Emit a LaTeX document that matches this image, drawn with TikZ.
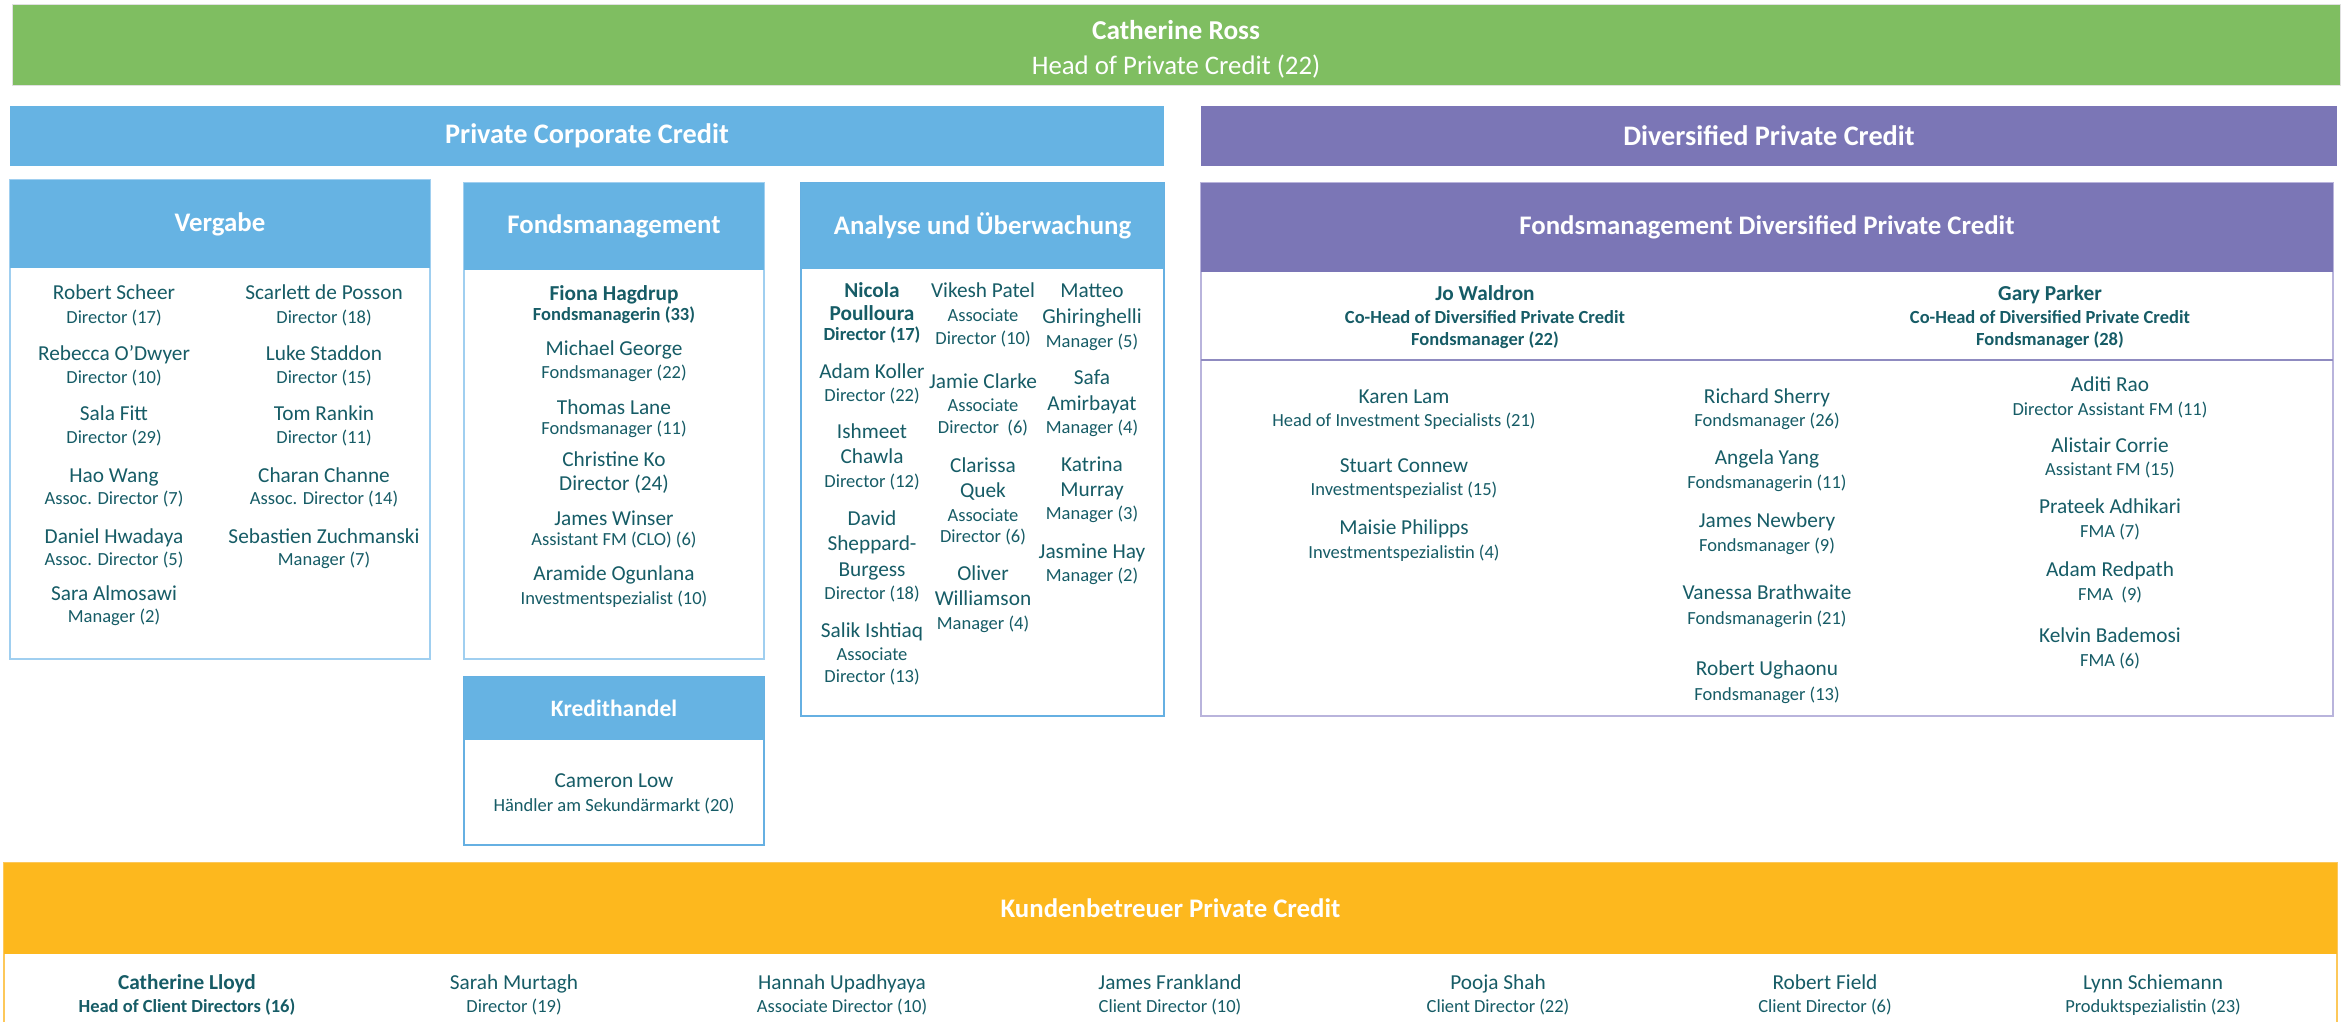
\documentclass[tikz,border=0pt]{standalone}
\usepackage{fontspec}
\setmainfont{Carlito}
\definecolor{topgreen}{RGB}{127,190,97}
\definecolor{secblue}{RGB}{102,179,227}
\definecolor{secpurple}{RGB}{123,118,182}
\definecolor{secorange}{RGB}{253,184,30}
\definecolor{edgeblue}{RGB}{160,207,240}
\definecolor{edgeblueD}{RGB}{102,176,226}
\definecolor{edgepurple}{RGB}{185,180,220}
\definecolor{rulepurple}{RGB}{143,139,192}
\definecolor{edgeorange}{RGB}{253,200,90}
\definecolor{tealc}{RGB}{22,92,102}
\newcommand\fsName{\fontsize{21.3}{25}\selectfont}
\newcommand\fsTitle{\fontsize{18.5}{22}\selectfont}
\newcommand\fsHead{\fontsize{26.8}{30}\selectfont\bfseries}
% one person: id, x, y of name, y of title, name, title
\newcommand\pers[6]{\node[nm] (#1) at (#2,#3) {#5};\node[tt] (#1t) at (#2,#4) {#6};}
\newcommand\persb[6]{\node[nmb] (#1) at (#2,#3) {#5};\node[ttb] (#1t) at (#2,#4) {#6};}
\begin{document}
\begin{tikzpicture}[x=1pt,y=-1pt,
  nm/.style={anchor=base,yshift=-7pt,inner sep=0pt,text=tealc,font=\fsName},
  nmb/.style={nm,font=\fsName\bfseries},
  tt/.style={anchor=base,yshift=-6pt,inner sep=0pt,text=tealc,font=\fsTitle},
  ttb/.style={tt,font=\fsTitle\bfseries},
  bar/.style={rectangle,inner sep=0pt,text=white,font=\fontsize{28.3}{32}\selectfont\bfseries},
  hdr/.style={rectangle,inner sep=0pt,fill=secblue,text=white,font=\fsHead},
  frame/.style={rectangle,inner sep=0pt,draw=#1,line width=2.2pt,fill=white},
]
\useasboundingbox (0,0) rectangle (2349,1022);

% head of the department
\node[bar,fill=topgreen,draw=black!12,line width=0.8pt,minimum width=2328pt,minimum height=81pt] (top) at (1176,44.5) {};
\node[anchor=base,yshift=-9pt,inner sep=0pt,text=white,font=\fontsize{27.3}{30}\selectfont\bfseries] (cr) at (1176,31) {Catherine Ross};
\node[anchor=base,yshift=-9pt,inner sep=0pt,text=white,font=\fontsize{26.8}{30}\selectfont] (crt) at (1176,66) {Head of Private Credit (22)};

% the two divisions
\node[bar,fill=secblue,minimum width=1154pt,minimum height=60pt] (pcc) at (587,136) {Private Corporate Credit};
\node[bar,fill=secpurple,minimum width=1136pt,minimum height=60pt] (dpc) at (1769,136) {Diversified Private Credit};

% Vergabe
\node[frame=edgeblue,minimum width=420pt,minimum height=479pt] (vgf) at (220,419.5) {};
\node[hdr,minimum width=420pt,minimum height=88pt] (vgh) at (220,224) {Vergabe};
\pers{v1}{114}{292}{317}{Robert Scheer}{Director (17)}
\pers{v2}{114}{353}{377}{Rebecca O’Dwyer}{Director (10)}
\pers{v3}{114}{413}{437}{Sala Fitt}{Director (29)}
\pers{v4}{114}{475}{498}{Hao Wang}{Assoc. Director (7)}
\pers{v5}{114}{536}{559}{Daniel Hwadaya}{Assoc. Director (5)}
\pers{v6}{114}{593}{616}{Sara Almosawi}{Manager (2)}
\pers{v7}{324}{292}{317}{Scarlett de Posson}{Director (18)}
\pers{v8}{324}{353}{377}{Luke Staddon}{Director (15)}
\pers{v9}{324}{413}{437}{Tom Rankin}{Director (11)}
\pers{v10}{324}{475}{498}{Charan Channe}{Assoc. Director (14)}
\pers{v11}{324}{536}{559}{Sebastien Zuchmanski}{Manager (7)}

% Fondsmanagement
\node[frame=edgeblue,minimum width=300pt,minimum height=476pt] (fmf) at (614,421) {};
\node[hdr,minimum width=300pt,minimum height=87pt] (fmh) at (614,226.5) {Fondsmanagement};
\persb{f1}{614}{293}{314}{Fiona Hagdrup}{Fondsmanagerin (33)}
\pers{f2}{614}{348}{372}{Michael George}{Fondsmanager (22)}
\pers{f3}{614}{407}{428}{Thomas Lane}{Fondsmanager (11)}
\node[nm] (f4) at (614,459) {Christine Ko};
\node[nm] (f4t) at (614,483) {Director (24)};
\pers{f5}{614}{518}{539}{James Winser}{Assistant FM (CLO) (6)}
\pers{f6}{614}{573}{598}{Aramide Ogunlana}{Investmentspezialist (10)}

% Kredithandel
\node[frame=edgeblueD,line width=1.6pt,minimum width=300pt,minimum height=168pt] (khf) at (614,761) {};
\node[hdr,font=\fontsize{23.5}{28}\selectfont\bfseries,minimum width=300pt,minimum height=63pt] (khh) at (614,708.5) {Kredithandel};
\pers{k1}{614}{780}{805}{Cameron Low}{Händler am Sekundärmarkt (20)}

% Analyse und Überwachung
\node[frame=edgeblueD,line width=1.6pt,minimum width=363pt,minimum height=533pt] (auf) at (982.5,449.5) {};
\node[hdr,minimum width=363pt,minimum height=86pt] (auh) at (982.5,226) {Analyse und Überwachung};
\node[nmb] (a1) at (872,290) {Nicola};
\node[nmb] (a1b) at (872,313) {Poulloura};
\node[ttb] (a1t) at (872,334) {Director (17)};
\pers{a2}{872}{371}{395}{Adam Koller}{Director (22)}
\node[nm] (a3) at (872,431) {Ishmeet};
\node[nm] (a3b) at (872,456) {Chawla};
\node[tt] (a3t) at (872,481) {Director (12)};
\node[nm] (a4) at (872,518) {David};
\node[nm] (a4b) at (872,543) {Sheppard-};
\node[nm] (a4c) at (872,569) {Burgess};
\node[tt] (a4t) at (872,593) {Director (18)};
\node[nm] (a5) at (872,630) {Salik Ishtiaq};
\node[tt] (a5b) at (872,654) {Associate};
\node[tt] (a5t) at (872,676) {Director (13)};
\node[nm] (b1) at (983,290) {Vikesh Patel};
\node[tt] (b1b) at (983,315) {Associate};
\node[tt] (b1t) at (983,338) {Director (10)};
\node[nm] (b2) at (983,381) {Jamie Clarke};
\node[tt] (b2b) at (983,405) {Associate};
\node[tt] (b2t) at (983,427) {Director\ \ (6)};
\node[nm] (b3) at (983,465) {Clarissa};
\node[nm] (b3b) at (983,490) {Quek};
\node[tt] (b3c) at (983,515) {Associate};
\node[tt] (b3t) at (983,536) {Director (6)};
\node[nm] (b4) at (983,573) {Oliver};
\node[nm] (b4b) at (983,598) {Williamson};
\node[tt] (b4t) at (983,623) {Manager (4)};
\node[nm] (c1) at (1092,290) {Matteo};
\node[nm] (c1b) at (1092,316) {Ghiringhelli};
\node[tt] (c1t) at (1092,341) {Manager (5)};
\node[nm] (c2) at (1092,377) {Safa};
\node[nm] (c2b) at (1092,403) {Amirbayat};
\node[tt] (c2t) at (1092,427) {Manager (4)};
\node[nm] (c3) at (1092,464) {Katrina};
\node[nm] (c3b) at (1092,489) {Murray};
\node[tt] (c3t) at (1092,513) {Manager (3)};
\pers{c4}{1092}{551}{575}{Jasmine Hay}{Manager (2)}

% Fondsmanagement Diversified Private Credit
\node[frame=edgepurple,line width=1.8pt,minimum width=1132pt,minimum height=533pt] (dff) at (1767,449.5) {};
\node[hdr,fill=secpurple,minimum width=1132pt,minimum height=89pt] (dfh) at (1767,227.5) {Fondsmanagement Diversified Private Credit};
\coordinate (sepL) at (1201,360);
\coordinate (sepR) at (2333,360);
\draw[rulepurple,line width=1.4pt] (sepL) -- (sepR);
\persb{jw}{1485}{293}{317}{Jo Waldron}{Co-Head of Diversified Private Credit}
\node[ttb] (jwt2) at (1485,339) {Fondsmanager (22)};
\persb{gp}{2050}{293}{317}{Gary Parker}{Co-Head of Diversified Private Credit}
\node[ttb] (gpt2) at (2050,339) {Fondsmanager (28)};
\pers{d1}{1404}{396}{420}{Karen Lam}{Head of Investment Specialists (21)}
\pers{d2}{1404}{465}{489}{Stuart Connew}{Investmentspezialist (15)}
\pers{d3}{1404}{527}{552}{Maisie Philipps}{Investmentspezialistin (4)}
\pers{d4}{1767}{396}{420}{Richard Sherry}{Fondsmanager (26)}
\pers{d5}{1767}{457.5}{482}{Angela Yang}{Fondsmanagerin (11)}
\pers{d6}{1767}{520}{545}{James Newbery}{Fondsmanager (9)}
\pers{d7}{1767}{592.5}{618}{Vanessa Brathwaite}{Fondsmanagerin (21)}
\pers{d8}{1767}{668}{694}{Robert Ughaonu}{Fondsmanager (13)}
\pers{d9}{2110}{384}{409}{Aditi Rao}{Director Assistant FM (11)}
\pers{d10}{2110}{445}{469}{Alistair Corrie}{Assistant FM (15)}
\pers{d11}{2110}{506}{531}{Prateek Adhikari}{FMA (7)}
\pers{d12}{2110}{569}{594}{Adam Redpath}{FMA\ \ (9)}
\pers{d13}{2110}{635}{660}{Kelvin Bademosi}{FMA (6)}

% Kundenbetreuer
\node[frame=edgeorange,line width=1.6pt,minimum width=2333pt,minimum height=190pt] (kbf) at (1170.5,958) {};
\node[hdr,fill=secorange,minimum width=2333pt,minimum height=91pt] (kbh) at (1170.5,908.5) {Kundenbetreuer Private Credit};
\persb{k01}{187}{982}{1006}{Catherine Lloyd}{Head of Client Directors (16)}
\pers{k02}{514}{982}{1006}{Sarah Murtagh}{Director (19)}
\pers{k03}{842}{982}{1006}{Hannah Upadhyaya}{Associate Director (10)}
\pers{k04}{1170}{982}{1006}{James Frankland}{Client Director (10)}
\pers{k05}{1498}{982}{1006}{Pooja Shah}{Client Director (22)}
\pers{k06}{1825}{982}{1006}{Robert Field}{Client Director (6)}
\pers{k07}{2153}{982}{1006}{Lynn Schiemann}{Produktspezialistin (23)}
\end{tikzpicture}
\end{document}
